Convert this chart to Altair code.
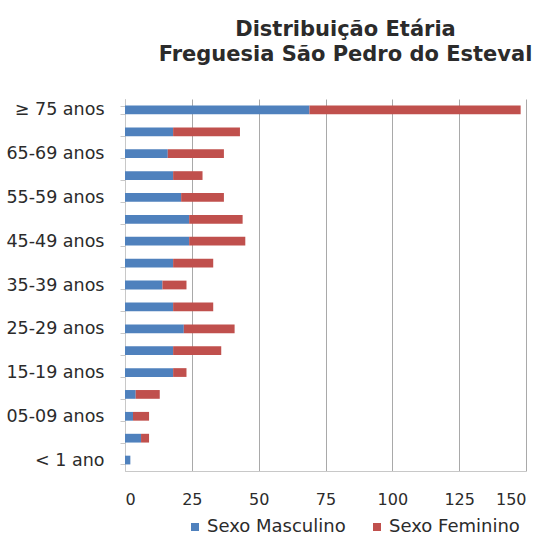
import altair as alt
import pandas as pd

# Age groups, top to bottom
faixas = ["≥ 75 anos", "70-74 anos", "65-69 anos", "60-64 anos", "55-59 anos",
          "50-54 anos", "45-49 anos", "40-44 anos", "35-39 anos", "30-34 anos",
          "25-29 anos", "20-24 anos", "15-19 anos", "10-14 anos", "05-09 anos",
          "01-04 anos", "< 1 ano"]
masculino = [69, 18, 16, 18, 21, 24, 24, 18, 14, 18, 22, 18, 18, 4, 3, 6, 2]
feminino = [79, 25, 21, 11, 16, 20, 21, 15, 9, 15, 19, 18, 5, 9, 6, 3, 0]

series = ["Sexo Masculino", "Sexo Feminino"]
cores = ["#4F81BD", "#C0504D"]
ticks_x = [0, 25, 50, 75, 100, 125, 150]

rows = []
for f, m, w in zip(faixas, masculino, feminino):
    rows.append({"faixa": f, "sexo": series[0], "ordem": 0, "valor": m})
    rows.append({"faixa": f, "sexo": series[1], "ordem": 1, "valor": w})
df = pd.DataFrame(rows)

# only every other age group gets a label
shown = faixas[::2]
label_expr = "indexof([" + ",".join("'" + s + "'" for s in shown) + "], datum.value) >= 0 ? datum.value : ''"

font = "DejaVu Sans"
text_color = "#2b2b2b"

chart = alt.Chart(df).mark_bar().encode(
    y=alt.Y("faixa:N", sort=faixas, title=None,
            scale=alt.Scale(paddingInner=0.6, paddingOuter=0.3),
            axis=alt.Axis(labelExpr=label_expr, tickBand="extent", tickSize=5,
                          tickColor="#c8c8c8", domainColor="#c8c8c8",
                          labelFontSize=17.5, labelColor=text_color, labelFont=font,
                          labelPadding=16)),
    x=alt.X("valor:Q", title=None, stack="zero",
            scale=alt.Scale(domain=[0, 150], nice=False),
            axis=alt.Axis(values=ticks_x, grid=True, gridColor="#a9a9a9",
                          domainColor="#c8c8c8", tickSize=0, labelPadding=20,
                          labelFontSize=16, labelColor=text_color, labelFont=font)),
    color=alt.Color("sexo:N", sort=series,
                    scale=alt.Scale(domain=series, range=cores),
                    legend=alt.Legend(title=None, orient="none", direction="horizontal",
                                      legendX=61, legendY=419, symbolType="square",
                                      symbolSize=64, labelFontSize=18, labelFont=font,
                                      labelColor=text_color, columnPadding=22,
                                      labelOffset=3, symbolStrokeWidth=0)),
    order=alt.Order("ordem:Q"),
).properties(
    width=401,
    height=372,
    title=alt.TitleParams(["Distribuição Etária", "Freguesia São Pedro do Esteval"],
                          anchor="middle", fontSize=21, font=font, fontWeight="bold",
                          color=text_color, lineHeight=25, offset=25, dx=20),
    autosize=alt.AutoSizeParams(type="none"),
    padding={"left": 125, "top": 99, "right": 19, "bottom": 67},
).configure_view(stroke=None)

chart.save("out.html", embed_options={"renderer": "svg", "actions": False})
